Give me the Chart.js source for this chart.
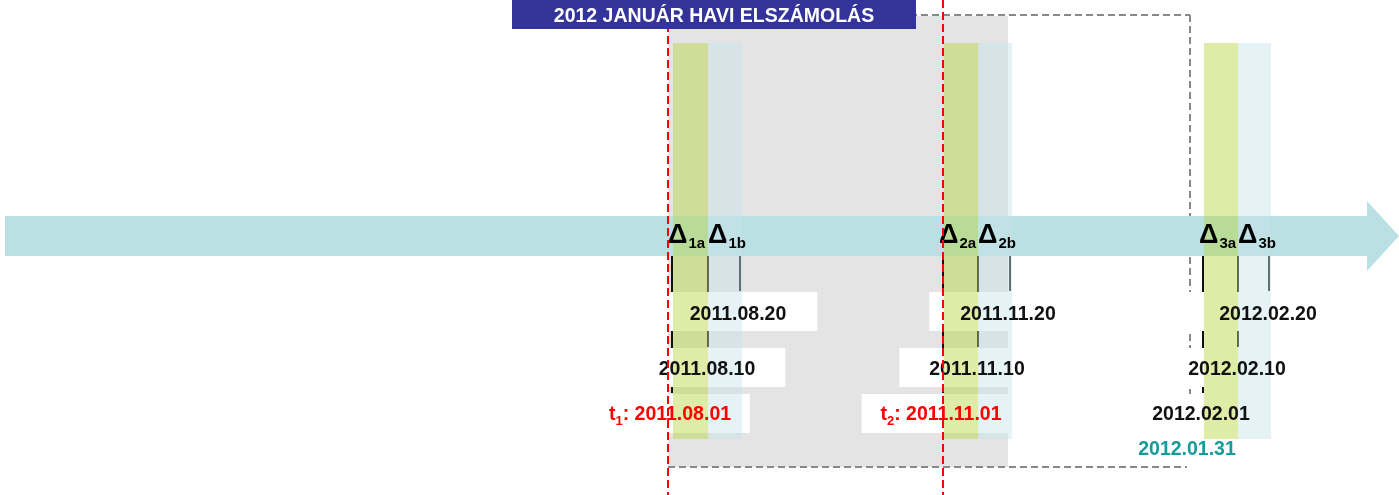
<!DOCTYPE html>
<html>
<head>
<meta charset="utf-8">
<script src="https://cdn.jsdelivr.net/npm/chart.js@4/dist/chart.umd.min.js"></script>
<style>
  html, body { margin: 0; padding: 0; background: #fff; }
  canvas { display: block; }
</style>
</head>
<body>
<canvas id="timeline" width="1399" height="495"></canvas>
<script>
/* timeline data: positions are along the schematic time axis */
var title = '2012 JANUÁR HAVI ELSZÁMOLÁS';
var periods = ['1', '2', '3'];
var dates01 = ['2011.08.01', '2011.11.01', '2012.02.01'];
var dates10 = ['2011.08.10', '2011.11.10', '2012.02.10'];
var dates20 = ['2011.08.20', '2011.11.20', '2012.02.20'];
var pos01 = [672, 943, 1203];
var pos10 = [708, 978, 1238];
var pos20 = [741, 1011, 1270];
var cutoffNames = ['1', '2'];          // t1, t2
var cutoffPos = [668, 943];
var closeDate = '2012.01.31';
var closePos = 1190;
var settledFrom = 668, settledTo = 1008; // grey area = settled in January

var FONT = '"Liberation Sans", Arial, sans-serif';

/* leader ticks from the labels up to the arrow */
var tickData = [];
periods.forEach(function(p, i) {
  tickData.push({x: pos01[i], y: 256}, {x: pos01[i], y: 393}, {x: null, y: null});
  tickData.push({x: pos10[i], y: 256}, {x: pos10[i], y: 347}, {x: null, y: null});
  tickData.push({x: pos20[i] - 1, y: 256}, {x: pos20[i] - 1, y: 291}, {x: null, y: null});
});

function boldFont(size) { return 'bold ' + size + 'px ' + FONT; }

function whiteBox(ctx, sx, sy, cx, text, top, bottom, pad, size) {
  ctx.font = boldFont(size);
  var w = ctx.measureText(text).width;
  var x0 = sx.getPixelForValue(cx) - w / 2 - pad;
  ctx.fillStyle = '#ffffff';
  ctx.fillRect(x0, sy.getPixelForValue(top), w + pad * 2, sy.getPixelForValue(bottom) - sy.getPixelForValue(top));
}

function segment(ctx, sx, sy, x1, y1, x2, y2) {
  ctx.beginPath();
  ctx.moveTo(sx.getPixelForValue(x1), sy.getPixelForValue(y1));
  ctx.lineTo(sx.getPixelForValue(x2), sy.getPixelForValue(y2));
  ctx.stroke();
}

var diagram = {
  id: 'diagram',
  beforeDatasetsDraw: function(chart) {
    var ctx = chart.ctx, sx = chart.scales.x, sy = chart.scales.y;
    ctx.save();
    // settled period (grey)
    ctx.fillStyle = '#e4e4e4';
    ctx.fillRect(sx.getPixelForValue(settledFrom), sy.getPixelForValue(16),
      sx.getPixelForValue(settledTo) - sx.getPixelForValue(settledFrom), sy.getPixelForValue(467) - sy.getPixelForValue(16));
    // dashed frame up to the closing date
    ctx.strokeStyle = '#888888';
    ctx.lineWidth = 2;
    ctx.setLineDash([7, 4]);
    segment(ctx, sx, sy, settledFrom, 15, closePos, 15);
    segment(ctx, sx, sy, closePos, 15, closePos, 400);
    segment(ctx, sx, sy, settledFrom, 467, closePos - 3, 467);
    ctx.setLineDash([]);
    // time arrow
    ctx.fillStyle = '#bbe0e3';
    ctx.beginPath();
    ctx.moveTo(sx.getPixelForValue(5), sy.getPixelForValue(216));
    ctx.lineTo(sx.getPixelForValue(1367), sy.getPixelForValue(216));
    ctx.lineTo(sx.getPixelForValue(1367), sy.getPixelForValue(201));
    ctx.lineTo(sx.getPixelForValue(1399), sy.getPixelForValue(236));
    ctx.lineTo(sx.getPixelForValue(1367), sy.getPixelForValue(271));
    ctx.lineTo(sx.getPixelForValue(1367), sy.getPixelForValue(256));
    ctx.lineTo(sx.getPixelForValue(5), sy.getPixelForValue(256));
    ctx.closePath();
    ctx.fill();
    ctx.restore();
  },
  afterDatasetsDraw: function(chart) {
    var ctx = chart.ctx, sx = chart.scales.x, sy = chart.scales.y;
    ctx.save();
    // white label boxes
    periods.forEach(function(p, i) {
      whiteBox(ctx, sx, sy, pos10[i] + 30, dates20[i], 292, 331, 31, 19.5);
      whiteBox(ctx, sx, sy, pos10[i] - 1, dates10[i], 348, 387, 30, 19.5);
      var t01 = i < cutoffNames.length ? 't1: ' + dates01[i] : dates01[i];
      whiteBox(ctx, sx, sy, pos01[i] - 2, t01, 394, 433, 17, 19.5);
    });

    // Δa / Δb bands
    periods.forEach(function(p, i) {
      var top = sy.getPixelForValue(43), h = sy.getPixelForValue(439) - top;
      var xa = sx.getPixelForValue(pos01[i] + 1), xb = sx.getPixelForValue(pos10[i]), xc = sx.getPixelForValue(pos20[i] + 1);
      ctx.fillStyle = 'rgba(185,212,60,0.45)';
      ctx.fillRect(xa, top, xb - xa, h);
      ctx.fillStyle = 'rgba(200,228,235,0.45)';
      ctx.fillRect(xb, top, xc - xb, h);
    });

    // texts
    ctx.textBaseline = 'alphabetic';
    ctx.textAlign = 'center';
    ctx.font = boldFont(19.5);
    ctx.fillStyle = '#111111';
    periods.forEach(function(p, i) {
      ctx.fillText(dates20[i], sx.getPixelForValue(pos10[i] + 30), sy.getPixelForValue(320));
      ctx.fillText(dates10[i], sx.getPixelForValue(pos10[i] - 1), sy.getPixelForValue(375));
    });
    ctx.fillText(dates01[2], sx.getPixelForValue(pos01[2] - 2), sy.getPixelForValue(420));
    ctx.fillStyle = '#169b9b';
    ctx.fillText(closeDate, sx.getPixelForValue(closePos - 3), sy.getPixelForValue(455));

    // t1 / t2 labels in red, with subscript
    ctx.textAlign = 'left';
    ctx.fillStyle = '#ff0000';
    cutoffNames.forEach(function(n, i) {
      ctx.font = boldFont(19.5);
      var wt = ctx.measureText('t').width;
      var rest = ': ' + dates01[i];
      var wr = ctx.measureText(rest).width;
      ctx.font = boldFont(13);
      var ws = ctx.measureText(n).width;
      var x = sx.getPixelForValue(pos01[i] - 2) - (wt + ws + wr) / 2;
      var y = sy.getPixelForValue(420);
      ctx.font = boldFont(19.5);
      ctx.fillText('t', x, y);
      ctx.font = boldFont(13);
      ctx.fillText(n, x + wt, y + 5);
      ctx.font = boldFont(19.5);
      ctx.fillText(rest, x + wt + ws, y);
    });

    // delta labels on the arrow
    ctx.fillStyle = '#000000';
    periods.forEach(function(p, i) {
      [[pos01[i] - 4, p + 'a'], [pos10[i], p + 'b']].forEach(function(d) {
        var x = sx.getPixelForValue(d[0]);
        ctx.font = boldFont(27);
        ctx.fillText('Δ', x, sy.getPixelForValue(243));
        var w = ctx.measureText('Δ').width;
        ctx.font = boldFont(15);
        ctx.fillText(d[1], x + w + 1, sy.getPixelForValue(248));
      });
    });

    // cut-off dates, red dashed
    ctx.strokeStyle = '#ff0000';
    ctx.lineWidth = 2;
    ctx.setLineDash([8, 4]);
    cutoffPos.forEach(function(v) {
      segment(ctx, sx, sy, v, 0, v, 495);
    });
    ctx.setLineDash([]);

    // title box
    ctx.fillStyle = '#333399';
    ctx.fillRect(sx.getPixelForValue(512), sy.getPixelForValue(0), sx.getPixelForValue(916) - sx.getPixelForValue(512), sy.getPixelForValue(29));
    ctx.fillStyle = '#ffffff';
    ctx.textAlign = 'center';
    ctx.font = boldFont(19.5);
    ctx.fillText(title, sx.getPixelForValue(714), sy.getPixelForValue(22));
    ctx.restore();
  }
};

var ctx = document.getElementById('timeline').getContext('2d');
var timeline = new Chart(ctx, {
  type: 'line',
  data: {
    datasets: [{
      label: 'ticks',
      data: tickData,
      borderColor: '#111111',
      borderWidth: 2,
      pointRadius: 0,
      spanGaps: false,
      fill: false
    }]
  },
  options: {
    responsive: false,
    animation: false,
    devicePixelRatio: 1,
    layout: { padding: 0 },
    plugins: { legend: { display: false }, tooltip: { enabled: false } },
    scales: {
      x: { type: 'linear', min: 0, max: 1399, display: false },
      y: { type: 'linear', min: 0, max: 495, reverse: true, display: false }
    }
  },
  plugins: [diagram]
});
</script>
</body>
</html>
